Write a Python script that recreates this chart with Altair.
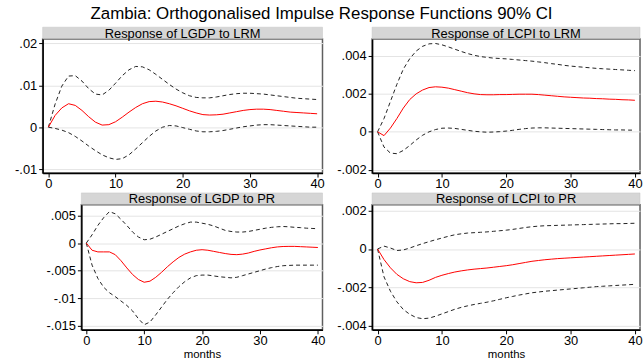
import altair as alt
import pandas as pd

FONT = "Liberation Sans"
SCALE = 1e-3  # values below are in thousandths
MONTHS = list(range(41))
X_TICKS = [0, 10, 20, 30, 40]
X_DOMAIN = [-0.85, 40.8]

TITLE = "Zambia: Orthogonalised Impulse Response Functions 90% CI"

# Response of LGDP to LRM
TL_TITLE = "Response of LGDP to LRM"
TL_IRF = [0, 2.8, 4.6, 5.6, 5.2, 4.0, 2.5, 1.2, 0.5, 0.6, 1.3, 2.4, 3.6, 4.7, 5.6, 6.1, 6.2, 6.0, 5.6, 5.1,
          4.5, 3.9, 3.4, 3.0, 2.9, 2.95, 3.1, 3.4, 3.7, 4.0, 4.2, 4.3, 4.3, 4.2, 4.0, 3.8, 3.6, 3.5, 3.4, 3.3, 3.2]
TL_HI = [0, 5.5, 9.8, 12.2, 12.3, 11.0, 9.2, 7.9, 7.7, 8.8, 10.5, 12.3, 13.7, 14.5, 14.4, 13.7, 12.6, 11.4, 10.2, 9.1,
         8.2, 7.5, 7.1, 7.0, 7.0, 7.2, 7.5, 7.8, 8.0, 8.1, 8.1, 8.0, 7.9, 7.7, 7.5, 7.3, 7.1, 6.9, 6.8, 6.7, 6.6]
TL_LO = [0, -0.3, -0.7, -1.3, -2.2, -3.3, -4.5, -5.6, -6.6, -7.3, -7.7, -7.5, -6.6, -5.2, -3.7, -2.2, -0.9, 0.0, 0.4, 0.3,
         -0.1, -0.5, -0.9, -1.1, -1.1, -1.0, -0.8, -0.5, -0.2, 0.1, 0.3, 0.5, 0.6, 0.6, 0.5, 0.4, 0.3, 0.2, 0.1, 0.0, 0.0]
TL_YDOM = [-0.01095, 0.02102]
TL_YTICKS = [-0.01, 0, 0.01, 0.02]

# Response of LCPI to LRM
TR_TITLE = "Response of LCPI to LRM"
TR_IRF = [0, -0.2, 0.2, 0.7, 1.25, 1.7, 2.0, 2.2, 2.33, 2.37, 2.35, 2.3, 2.22, 2.14, 2.06, 2.0, 1.96, 1.95, 1.95, 1.96,
          1.96, 1.97, 1.98, 1.98, 1.98, 1.96, 1.93, 1.9, 1.87, 1.84, 1.82, 1.8, 1.78, 1.77, 1.75, 1.74, 1.72, 1.71, 1.69, 1.68, 1.66]
TR_HI = [0, 0.7, 1.6, 2.5, 3.3, 3.85, 4.25, 4.5, 4.63, 4.65, 4.58, 4.47, 4.35, 4.23, 4.12, 4.03, 3.96, 3.92, 3.88, 3.86,
         3.84, 3.81, 3.78, 3.75, 3.72, 3.68, 3.64, 3.59, 3.55, 3.5, 3.46, 3.43, 3.4, 3.37, 3.34, 3.32, 3.3, 3.28, 3.26, 3.24, 3.22]
TR_LO = [0, -0.8, -1.12, -1.15, -0.98, -0.72, -0.43, -0.18, 0.0, 0.12, 0.19, 0.2, 0.18, 0.13, 0.08, 0.03, 0.0, -0.02, -0.01, 0.01,
         0.04, 0.08, 0.13, 0.17, 0.2, 0.21, 0.21, 0.2, 0.19, 0.18, 0.17, 0.16, 0.15, 0.14, 0.13, 0.12, 0.11, 0.1, 0.1, 0.09, 0.09]
TR_YDOM = [-0.00217, 0.00488]
TR_YTICKS = [-0.002, 0, 0.002, 0.004]

# Response of LGDP to PR
BL_TITLE = "Response of LGDP to PR"
BL_IRF = [0, -1.3, -1.6, -1.6, -1.6, -2.1, -3.2, -4.5, -5.7, -6.6, -7.1, -6.9, -6.2, -5.3, -4.3, -3.4, -2.6, -2.0, -1.6, -1.3,
          -1.2, -1.3, -1.5, -1.7, -1.9, -2.05, -2.1, -2.0, -1.8, -1.5, -1.25, -1.05, -0.85, -0.7, -0.62, -0.6, -0.6, -0.65, -0.7, -0.75, -0.8]
BL_HI = [0, 1.5, 3.2, 4.6, 5.7, 5.3, 4.3, 3.2, 2.0, 1.1, 0.6, 0.7, 1.1, 1.6, 2.1, 2.6, 3.1, 3.5, 3.8, 3.8,
         3.6, 3.4, 3.1, 2.7, 2.3, 2.1, 2.0, 2.0, 2.1, 2.3, 2.5, 2.7, 2.85, 2.95, 3.0, 2.95, 2.85, 2.8, 2.7, 2.65, 2.6]
BL_LO = [0, -4.0, -6.4, -8.0, -9.0, -9.7, -10.5, -11.3, -12.3, -13.7, -14.8, -14.3, -13.0, -11.6, -10.2, -9.0, -7.9, -7.0, -6.3, -5.9,
         -5.8, -5.8, -5.95, -6.1, -6.2, -6.3, -6.2, -5.9, -5.6, -5.3, -5.0, -4.7, -4.45, -4.25, -4.1, -4.05, -4.0, -4.0, -4.0, -4.0, -4.0]
BL_YDOM = [-0.01572, 0.00693]
BL_YTICKS = [-0.015, -0.01, -0.005, 0, 0.005]

# Response of LCPI to PR
BR_TITLE = "Response of LCPI to PR"
BR_IRF = [0, -0.55, -0.98, -1.32, -1.55, -1.7, -1.76, -1.74, -1.63, -1.48, -1.37, -1.28, -1.2, -1.14, -1.09, -1.05, -1.02, -0.99, -0.95, -0.91,
          -0.87, -0.82, -0.76, -0.7, -0.64, -0.6, -0.56, -0.53, -0.5, -0.48, -0.46, -0.44, -0.42, -0.4, -0.38, -0.36, -0.34, -0.32, -0.3, -0.28, -0.26]
BR_HI = [0, 0.15, 0.05, -0.08, -0.05, 0.05, 0.17, 0.28, 0.38, 0.48, 0.57, 0.66, 0.74, 0.79, 0.83, 0.85, 0.87, 0.89, 0.92, 0.95,
         0.98, 1.02, 1.07, 1.12, 1.16, 1.19, 1.21, 1.22, 1.23, 1.24, 1.25, 1.26, 1.27, 1.28, 1.29, 1.3, 1.31, 1.32, 1.32, 1.33, 1.34]
BR_LO = [0, -1.45, -2.2, -2.75, -3.15, -3.4, -3.57, -3.63, -3.6, -3.5, -3.38, -3.26, -3.14, -3.04, -2.96, -2.89, -2.83, -2.77, -2.7, -2.62,
         -2.54, -2.47, -2.4, -2.34, -2.28, -2.24, -2.2, -2.17, -2.14, -2.11, -2.08, -2.05, -2.02, -1.99, -1.96, -1.94, -1.92, -1.9, -1.88, -1.86, -1.84]
BR_YDOM = [-0.00421, 0.0023]
BR_YTICKS = [-0.004, -0.002, 0, 0.002]

LABEL_EXPR = "replace(replace(format(datum.value, '~g'), '\u2212', '-'), '0.', '.')"


def panel(title, lo, irf, hi, ydom, yticks, width, height, yext, xext, bottom):
    rows = []
    for name, vals in (("lower", lo), ("irf", irf), ("upper", hi)):
        for m, v in zip(MONTHS, vals):
            rows.append({"m": m, "v": v * SCALE, "s": name})
    df = pd.DataFrame(rows)

    xaxis = alt.Axis(values=X_TICKS, grid=False, tickSize=4, labelPadding=1,
                     title="months" if bottom else None, titlePadding=-11,
                     titleFontWeight="normal", titleFontSize=11.5, titleFont=FONT,
                     titleColor="black",
                     labelFontSize=13, labelFont=FONT, labelColor="black",
                     domainColor="black", domainWidth=1.5, tickColor="black",
                     minExtent=xext, maxExtent=xext, labelFlush=False)
    yaxis = alt.Axis(values=yticks, labelExpr=LABEL_EXPR, title=None, grid=True,
                     gridColor="#e4e4e4", gridWidth=1, tickSize=4, labelPadding=2,
                     labelFontSize=13, labelFont=FONT, labelColor="black",
                     domainColor="black", domainWidth=1.5, tickColor="black",
                     minExtent=yext, maxExtent=yext)

    x = alt.X("m:Q", scale=alt.Scale(domain=X_DOMAIN, nice=False, zero=False), axis=xaxis)
    y = alt.Y("v:Q", scale=alt.Scale(domain=ydom, nice=False, zero=False), axis=yaxis)

    base = alt.Chart(df)
    bands = base.transform_filter("datum.s != 'irf'").mark_line(
        color="#222222", strokeWidth=1, strokeDash=[4, 3]
    ).encode(x=x, y=y, detail="s:N")
    line = base.transform_filter("datum.s == 'irf'").mark_line(
        color="#ff0000", strokeWidth=1
    ).encode(x=x, y=y)

    sdf = pd.DataFrame({"t": [title]})
    strip = alt.Chart(sdf).mark_rect(fill="#d6d6d6", stroke="#c4c4c4", strokeWidth=0.5).encode(
        x=alt.value(0), x2=alt.value(width), y=alt.value(-12), y2=alt.value(-0.5)
    )
    stext = alt.Chart(sdf).mark_text(
        fontSize=13, font=FONT, color="black", baseline="middle", align="center"
    ).encode(x=alt.value(width / 2), y=alt.value(-5.5), text="t:N")

    return alt.layer(bands, line, strip, stext).properties(width=width, height=height)


def spacer():
    return alt.Chart(pd.DataFrame({"a": [0]})).mark_rect(opacity=0).encode(
        x=alt.value(0), x2=alt.value(0), y=alt.value(0), y2=alt.value(0)
    ).properties(width=1, height=1, view=alt.ViewBackground(stroke="transparent"))


tl = panel(TL_TITLE, TL_LO, TL_IRF, TL_HI, TL_YDOM, TL_YTICKS, 282, 135, 39, 17, False)
tr = panel(TR_TITLE, TR_LO, TR_IRF, TR_HI, TR_YDOM, TR_YTICKS, 270, 135, 46, 17, False)
bl = panel(BL_TITLE, BL_LO, BL_IRF, BL_HI, BL_YDOM, BL_YTICKS, 243, 126, 78, 30, True)
br = panel(BR_TITLE, BR_LO, BR_IRF, BR_HI, BR_YDOM, BR_YTICKS, 270, 126, 45, 30, True)

row1 = alt.hconcat(spacer(), tl, tr, spacing=0)
row2 = alt.hconcat(spacer(), bl, br, spacing=0)

chart = alt.vconcat(row1, row2, spacing=0).properties(
    title=alt.TitleParams(TITLE, fontSize=17, font=FONT, fontWeight="normal",
                          color="black", anchor="middle", offset=3),
    padding={"left": 0, "top": 4, "right": 0, "bottom": 0},
    background="white",
).configure_view(stroke="#5f5f5f", strokeWidth=1.5)

chart.save("out.html", embed_options={"renderer": "svg", "actions": False})
